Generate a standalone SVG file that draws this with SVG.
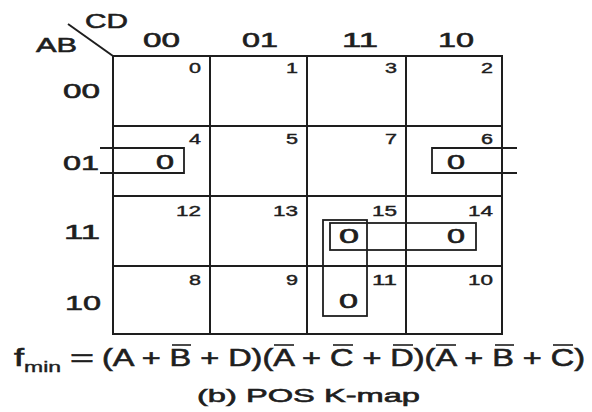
<svg xmlns="http://www.w3.org/2000/svg" width="592" height="412" viewBox="0 0 592 412">
  <style>
    text { font-family: "Liberation Sans", Arial, sans-serif; fill: #1e1e1e; stroke: #1e1e1e; stroke-width: 0.6; }
    .hdr { font-size: 21px; }
    .num { font-size: 14px; stroke-width: 0.4; }
    .zero { font-size: 20px; }
    .eq { font-size: 23px; }
    .sub { font-size: 15px; stroke-width: 0.4; }
    .cap { font-size: 19px; }
    .grid { fill: none; stroke: #1e1e1e; stroke-width: 2; }
    .loop { fill: none; stroke: #1e1e1e; stroke-width: 1.8; }
    .bar { stroke: #1e1e1e; stroke-width: 1.6; }
  </style>
  <rect width="592" height="412" fill="#ffffff"/>

  <g id="kmap-grid">
    <rect class="grid" x="113" y="56" width="389" height="278"/>
    <line class="grid" x1="210" y1="56" x2="210" y2="334"/>
    <line class="grid" x1="307" y1="56" x2="307" y2="334"/>
    <line class="grid" x1="406" y1="56" x2="406" y2="334"/>
    <line class="grid" x1="113" y1="126" x2="502" y2="126"/>
    <line class="grid" x1="113" y1="196" x2="502" y2="196"/>
    <line class="grid" x1="113" y1="266" x2="502" y2="266"/>
    <line class="grid" x1="68" y1="24" x2="113" y2="56" stroke-width="1.8"/>
  </g>

  <g id="axis-labels">
    <text class="hdr" x="85" y="28" textLength="43" lengthAdjust="spacingAndGlyphs">CD</text>
    <text class="hdr" x="36" y="52" textLength="41" lengthAdjust="spacingAndGlyphs">AB</text>
  </g>

  <g id="column-headers">
    <text class="hdr" x="143" y="47" textLength="37" lengthAdjust="spacingAndGlyphs">00</text>
    <text class="hdr" x="242" y="47" textLength="36" lengthAdjust="spacingAndGlyphs">01</text>
    <text class="hdr" x="342" y="47" textLength="36" lengthAdjust="spacingAndGlyphs">11</text>
    <text class="hdr" x="438" y="47" textLength="36" lengthAdjust="spacingAndGlyphs">10</text>
  </g>

  <g id="row-headers">
    <text class="hdr" x="63" y="98" textLength="37" lengthAdjust="spacingAndGlyphs">00</text>
    <text class="hdr" x="63" y="170" textLength="36" lengthAdjust="spacingAndGlyphs">01</text>
    <text class="hdr" x="64" y="239" textLength="36" lengthAdjust="spacingAndGlyphs">11</text>
    <text class="hdr" x="65" y="310" textLength="36" lengthAdjust="spacingAndGlyphs">10</text>
  </g>

  <g id="cell-numbers">
    <text class="num" x="189" y="73" textLength="12" lengthAdjust="spacingAndGlyphs">0</text>
    <text class="num" x="286" y="73" textLength="12" lengthAdjust="spacingAndGlyphs">1</text>
    <text class="num" x="385" y="73" textLength="12" lengthAdjust="spacingAndGlyphs">3</text>
    <text class="num" x="481" y="73" textLength="12" lengthAdjust="spacingAndGlyphs">2</text>
    <text class="num" x="189" y="144" textLength="12" lengthAdjust="spacingAndGlyphs">4</text>
    <text class="num" x="286" y="144" textLength="12" lengthAdjust="spacingAndGlyphs">5</text>
    <text class="num" x="385" y="144" textLength="12" lengthAdjust="spacingAndGlyphs">7</text>
    <text class="num" x="481" y="144" textLength="12" lengthAdjust="spacingAndGlyphs">6</text>
    <text class="num" x="176" y="216" textLength="25" lengthAdjust="spacingAndGlyphs">12</text>
    <text class="num" x="273" y="216" textLength="25" lengthAdjust="spacingAndGlyphs">13</text>
    <text class="num" x="372" y="216" textLength="25" lengthAdjust="spacingAndGlyphs">15</text>
    <text class="num" x="468" y="216" textLength="25" lengthAdjust="spacingAndGlyphs">14</text>
    <text class="num" x="189" y="285" textLength="12" lengthAdjust="spacingAndGlyphs">8</text>
    <text class="num" x="286" y="285" textLength="12" lengthAdjust="spacingAndGlyphs">9</text>
    <text class="num" x="372" y="285" textLength="25" lengthAdjust="spacingAndGlyphs">11</text>
    <text class="num" x="468" y="285" textLength="25" lengthAdjust="spacingAndGlyphs">10</text>
  </g>

  <g id="cell-values">
    <text class="zero" x="156" y="169" textLength="18" lengthAdjust="spacingAndGlyphs">0</text>
    <text class="zero" x="447" y="169" textLength="18" lengthAdjust="spacingAndGlyphs">0</text>
    <text class="zero" x="339" y="243" textLength="20" lengthAdjust="spacingAndGlyphs">0</text>
    <text class="zero" x="447" y="243" textLength="18" lengthAdjust="spacingAndGlyphs">0</text>
    <text class="zero" x="339" y="308" textLength="19" lengthAdjust="spacingAndGlyphs">0</text>
  </g>

  <g id="groupings">
    <path class="loop" d="M100,148 H184 V173 H100"/>
    <path class="loop" d="M517,148 H432 V173 H517"/>
    <rect class="loop" x="330" y="223" width="146" height="27"/>
    <rect class="loop" x="323" y="220" width="44" height="96"/>
  </g>

  <g id="equation">
    <text class="eq" x="14" y="366" textLength="10" lengthAdjust="spacingAndGlyphs">f</text>
    <text class="sub" x="24" y="372" textLength="37" lengthAdjust="spacingAndGlyphs">min</text>
    <text class="eq" x="70" y="366" textLength="24" lengthAdjust="spacingAndGlyphs">=</text>
    <text class="eq" x="102" y="366" textLength="483" lengthAdjust="spacingAndGlyphs">(A + B + D)(A + C + D)(A + B + C)</text>
    <line class="bar" x1="172" y1="345" x2="191" y2="345"/>
    <line class="bar" x1="274" y1="345" x2="294" y2="345"/>
    <line class="bar" x1="333" y1="345" x2="353" y2="345"/>
    <line class="bar" x1="393" y1="345" x2="413" y2="345"/>
    <line class="bar" x1="436" y1="345" x2="456" y2="345"/>
    <line class="bar" x1="495" y1="345" x2="514" y2="345"/>
    <line class="bar" x1="553" y1="345" x2="573" y2="345"/>
  </g>

  <g id="caption">
    <text class="cap" x="197" y="402" textLength="223" lengthAdjust="spacingAndGlyphs">(b) POS K-map</text>
  </g>
</svg>
